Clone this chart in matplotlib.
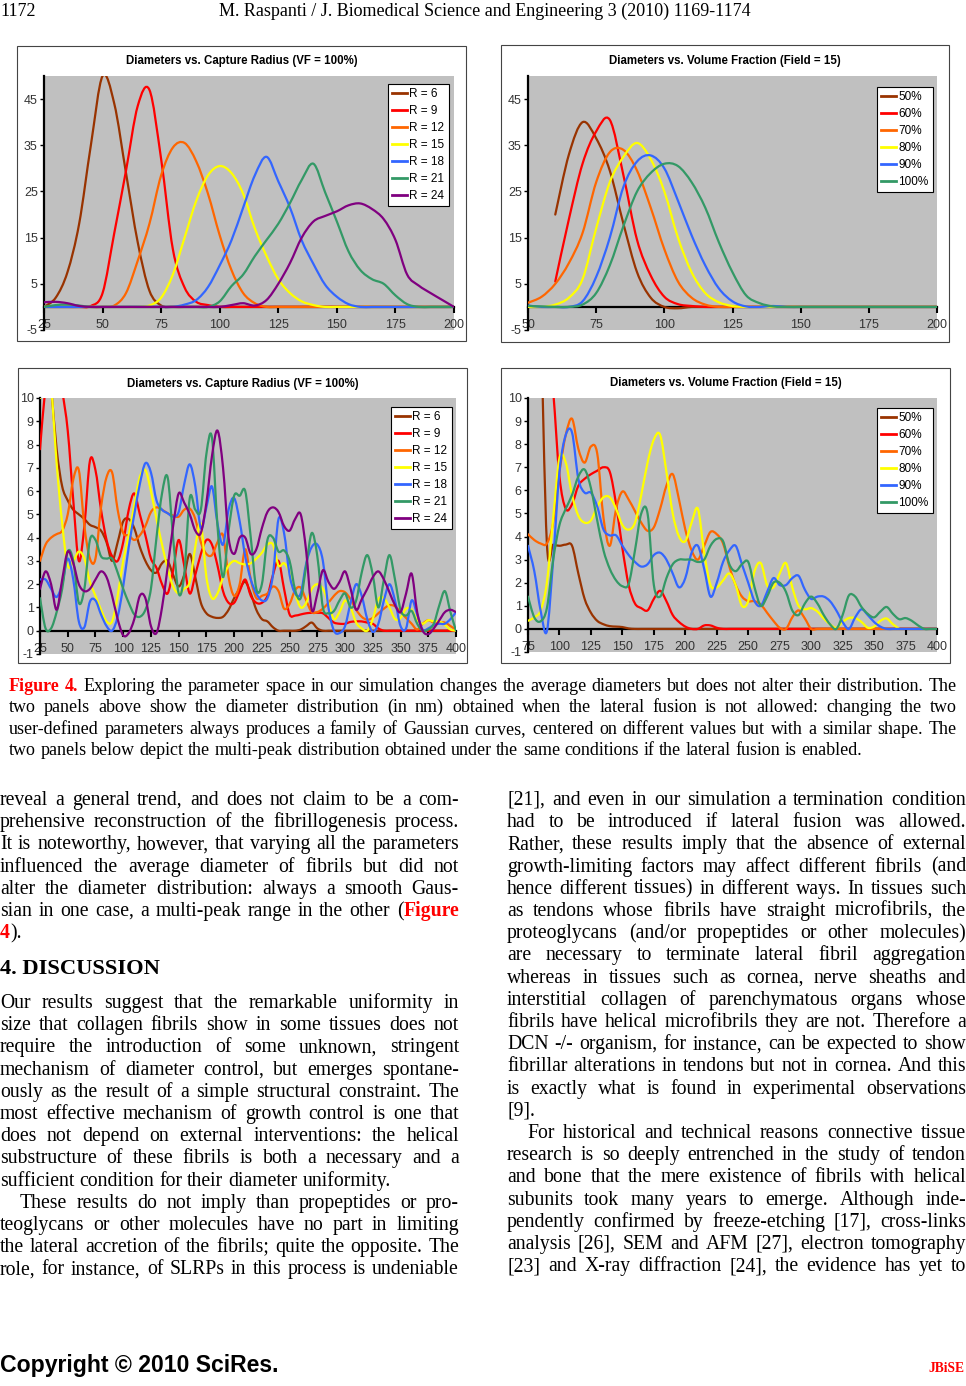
import matplotlib
matplotlib.use("Agg")
import matplotlib.pyplot as plt
from matplotlib.path import Path
from matplotlib.patches import PathPatch, Rectangle
from matplotlib.lines import Line2D

plt.rcParams["font.family"] = ["Liberation Sans", "DejaVu Sans"]
plt.rcParams["axes.unicode_minus"] = False

W, H = 966, 1386
SERIF = ["Liberation Serif", "DejaVu Serif"]
RED = "#ff0000"
COLORS = ["#993300", "#ff0000", "#ff6600", "#ffff00", "#3366ff", "#339966", "#800080"]

# ---------------- chart data ----------------
# top left: no lateral fusion, capture radius R
tl_x = list(range(25, 205, 5))
tl_labels = ["R = 6", "R = 9", "R = 12", "R = 15", "R = 18", "R = 21", "R = 24"]
tl_r6 = [0, 2, 7.5, 18, 35, 50, 44, 29, 14, 3.5,
         0.3, 0, 0, 0, 0, 0, 0, 0, 0, 0,
         0, 0, 0, 0, 0, 0, 0, 0, 0, 0,
         0, 0, 0, 0, 0, 0]
tl_r9 = [0, 0, 0, 0, 0.2, 3, 16, 29.5, 43.5, 47,
         32, 12.5, 4.2, 1.1, 0.4, 0, 0, 0, 0, 0,
         0, 0, 0, 0, 0, 0, 0, 0, 0, 0,
         0, 0, 0, 0, 0, 0]
tl_r12 = [0, 0, 0, 0, 0, 0, 0.3, 3, 10, 18,
          28.5, 34.5, 35.5, 31.5, 24.5, 15.5, 8, 3, 0.8, 0,
          0, 0, 0, 0, 0, 0, 0, 0, 0, 0,
          0, 0, 0, 0, 0, 0]
tl_r15 = [0, 0, 0, 0, 0, 0, 0, 0, 0, 0.3,
          2, 7, 15, 23, 28.5, 30.5, 29, 24.5, 17, 11,
          6, 3, 1.2, 0.4, 0, 0, 0, 0, 0, 0,
          0, 0, 0, 0, 0, 0]
tl_r18 = [0, 0, 0, 0, 0, 0, 0, 0, 0, 0,
          0, 0, 0.5, 1.5, 4.3, 9, 14.4, 21.5, 28.5, 32.5,
          27.2, 21.5, 14.4, 9.3, 4.8, 2.2, 0.6, 0, 0, 0,
          0, 0, 0, 0, 0, 0]
tl_r21 = [0, 0.4, 0.5, 0.3, 0, 0, 0, 0, 0, 0,
          0, 0, 0, 0, 0, 1.2, 4.5, 7, 11, 14.5,
          18, 22.5, 27.5, 31, 24.8, 18.5, 12, 8, 6, 5,
          2.5, 0.6, 0, 0, 0, 0]
tl_r24 = [1, 1.1, 0.8, 0.2, 0, 0, 0, 0, 0, 0,
          0, 0, 0, 0, 0, 0, 0.4, 0.8, 0.3, 1.5,
          5, 9.5, 15, 18.5, 19.7, 20.7, 22, 22.4, 21.2, 19,
          14.5, 7, 4.6, 3, 1.5, 0]

# top right: no lateral fusion, volume fraction
tr_x = list(range(50, 205, 5))
tr_labels = ["50%", "60%", "70%", "80%", "90%", "100%"]
tr_50 = [None, None, 20, 33, 40, 36.5, 29.5, 18, 7.5, 2,
         0, -0.3, 0, 0, 0, 0, 0, 0, 0, 0,
         0, 0, 0, 0, 0, 0, 0, 0, 0, 0, 0]
tr_60 = [None, None, 5.5, 19, 31, 38, 40.5, 28.5, 14.5, 6.8,
         2.2, 0.6, 0.2, 0, 0, 0, 0, 0, 0, 0,
         0, 0, 0, 0, 0, 0, 0, 0, 0, 0, 0]
tr_70 = [0.9, 2.2, 5, 9.5, 16, 27, 33.5, 34, 29.5, 21.5,
         12.5, 5.5, 2, 0.5, 0, 0, 0, 0, 0, 0,
         0, 0, 0, 0, 0, 0, 0, 0, 0, 0, 0]
tr_80 = [0, 0, 0.5, 2, 6, 17, 27, 32.5, 35.5, 32,
         25, 15, 7.5, 3, 1, 0.2, 0, 0, 0, 0,
         0, 0, 0, 0, 0, 0, 0, 0, 0, 0, 0]
tr_90 = [0.3, 0, 0, 0, 1.2, 6.5, 15, 26, 31.5, 32.8,
         30, 23, 15.5, 9, 4, 1.2, 0.1, 0, 0.2, 0,
         0, 0, 0, 0, 0, 0, 0, 0, 0, 0, 0]
tr_100 = [0.2, 0.1, 0, 0, 0.5, 3, 9, 17.5, 25, 29,
          31, 30.5, 27, 21.5, 14, 7.5, 2.5, 0.8, 0.1, 0,
          0, 0, 0, 0, 0, 0, 0, 0, 0, 0, 0]

# bottom left: lateral fusion, capture radius R
bl_x = list(range(25, 405, 5))
bl_r6 = [15, 13, 10.5, 7.8, 6.2, 5.6, 5.2, 5.0, 4.8, 4.55,
         4.45, 4.3, 3.8, 3.0, 3.8, 4.7, 4.8, 4.4, 3.6, 3.0,
         2.6, 2.5, 2.9, 3.0, 2.4, 1.9, 2.4, 3.3, 2.3, 1.2,
         0.75, 0.6, 0.55, 0.6, 0.9, 1.4, 1.8, 2.1, 1.6, 0.9,
         0.5, 0.4, 0.15, 0, 0, 0, 0, 0.05, 0.2, 0.35,
         0.1, 0, 0, 0, 0, 0, 0, 0, 0, 0,
         0, 0, 0, 0, 0, 0, 0, 0, 0, 0,
         0, 0, 0, 0, 0, 0]
bl_r9 = [7.8, 10.5, 12, 11.5, 10.3, 8.6, 5.6, 3.0, 4.5, 7.3,
         6.9, 5.2, 3.9, 3.2, 3.0, 3.8, 5.2, 5.9, 5.0, 4.1,
         3.1, 2.7, 2.0, 1.6, 2.6, 3.9, 2.8, 1.6, 2.4, 3.3,
         3.9, 3.7, 2.8, 1.7, 1.2, 1.2, 1.7, 2.2, 1.5, 1.2,
         1.2, 1.5, 2.4, 3.0, 1.8, 0.7, 0.65, 0.7, 0.75, 0.77,
         0.77, 0.75, 0.55, 0.35, 0.3, 0.3, 0.38, 0.4, 0.4, 0.35,
         0.3, 0.1, 0, 0, 0, 0, 0, 0, 0, 0,
         0, 0, 0, 0, 0, 0]
bl_r12 = [3.0, 3.7, 4.0, 4.15, 4.3, 5.0, 6.5, 6.9, 4.5, 3.1,
          3.1, 5.3, 6.6, 6.8, 5.2, 4.2, 4.1, 3.9, 4.1, 4.5,
          5.1, 5.3, 5.2, 5.05, 4.95, 4.9, 5.2, 5.25, 4.8, 3.8,
          3.3, 3.25, 3.8, 4.1, 2.3, 1.5, 2.0, 3.5, 2.2, 1.4,
          1.5, 1.6, 1.9, 1.7, 0.95, 1.15, 1.75, 1.85, 1.3, 0.8,
          0.8, 0.95, 1.2, 1.5, 1.7, 1.65, 1.35, 0.9, 0.6, 0.47,
          0.55, 0.75, 0.95, 1.1, 1.05, 0.8, 0.55, 0.3, 0.05, 0.3,
          0.45, 0.35, 0.35, 0.35, 0.2, 0.05]
bl_r15 = [10, 12, 10.5, 7.2, 4.6, 2.8, 3.0, 3.4, 3.1, 2.1,
          1.5, 0.9, 0.4, 0.4, 1.5, 3.0, 4.1, 5.4, 6.6, 6.9,
          6.0, 4.8, 3.7, 2.7, 1.9, 1.6, 1.8, 2.1, 3.6, 4.6,
          2.3, 1.4, 1.6, 2.3, 2.8, 3.0, 2.9, 2.85, 2.9, 3.1,
          3.35, 3.7, 3.7, 2.8, 2.9, 2.5, 1.6, 1.0, 1.2, 1.8,
          2.0, 1.8, 1.2, 0.5, 0.8, 1.3, 1.0, 0.35, 0.1, 0,
          0.5, 1.35, 1.4, 1.0, 0.5, 0.55, 0.95, 0.9, 0.45, 0.3,
          0.45, 0.4, 0.4, 0.25, 0.05, 0]
bl_r18 = [2.2, 2.2, 1.8, 1.45, 2.0, 3.1, 2.2, 0.4, 0.15, 1.25,
          1.3, 0.7, 0.2, 0, 0.6, 1.9, 3.6, 5.0, 6.3, 7.2,
          6.8, 5.6, 5.2, 5.05, 4.9, 5.1, 6.3, 7.15, 6.2, 4.4,
          5.3, 6.2, 4.6, 3.7, 5.2, 5.7, 4.7, 3.2, 2.2, 1.6,
          1.3, 1.4, 2.4, 4.8, 4.2, 2.4, 1.6, 1.6, 2.9, 3.6,
          3.7, 3.0, 1.0, 0, -0.1, 0.2, 1.2, 2.0, 1.5, 0.5,
          -0.05, 0.3, 1.3, 2.0, 1.3, 0.2, 0.1, 1.3, 0.7, 0.05,
          0.1, 0.25, 0.3, 0.3, 0.5, 0.8]
bl_r21 = [1.4, 0.1, 0.1, 0.8, 1.8, 3.4, 3.0, 1.2, 1.8, 3.9,
          3.9, 3.2, 3.1, 3.1, 2.5, 1.8, 1.2, 0.7, 0.6, 0.9,
          1.8, 4.0, 5.9, 6.6, 4.0, 1.6, 2.4, 5.7, 5.2, 5.2,
          7.6, 8.3, 4.5, 2.3, 4.3, 5.8, 5.8, 6.0, 4.0, 1.8,
          2.0, 3.9, 4.0, 3.4, 3.45, 3.0, 1.75, 1.4, 2.8, 4.2,
          3.2, 1.0, 0.75, 0.85, 1.3, 1.6, 1.0, 1.3, 2.5, 3.25,
          2.4, 1.0, 2.2, 3.25, 2.2, 0.9, 0.65, 0.85, 0.3, 0,
          0.05, 0.3, 1.1, 1.7, 0.8, 0]
bl_r24 = [1.8, 2.55, 2.0, 0.9, 2.2, 3.4, 2.9, 2.0, 1.7, 1.8,
          2.2, 2.55, 2.3, 1.5, 0.5, -0.2, -0.1, 0.5, 1.5, 1.4,
          0.2, -0.1, 1.0, 2.7, 4.5, 5.9, 5.5, 5.0, 4.3, 4.2,
          5.5, 7.5, 8.6, 7.0, 4.0, 3.3, 4.0, 4.0, 3.3, 3.5,
          4.4, 5.1, 5.3, 5.1, 4.5, 4.3, 4.8, 5.0, 3.4, 0.9,
          1.6, 2.6, 2.1, 1.8, 2.1, 2.55, 1.8, 0.9, 1.35, 1.8,
          2.3, 2.55, 2.2, 1.65, 1.1, 0.8, 1.6, 2.45, 0.8, 0,
          -0.15, 0.1, 0.45, 0.8, 0.9, 0.8]

# bottom right: lateral fusion, volume fraction
br_x = list(range(75, 405, 5))
br_50 = [None, None, 14, 3.7, 3.65, 3.6, 3.65, 3.6, 2.4, 1.3,
         0.7, 0.35, 0.2, 0.12, 0.1, 0.08, 0.02, 0, 0, 0,
         0, 0, 0, 0, 0, 0, 0, 0, 0, 0,
         0, 0, 0, 0, 0, 0, 0, 0, 0, 0,
         0, 0, 0, 0, 0, 0, 0, 0, 0, 0,
         0, 0, 0, 0, 0, 0, 0, 0, 0, 0,
         0, 0, 0, 0, 0, 0]
br_60 = [None, None, None, 13, 10.3, 6.6, 5.2, 5.4, 6.2, 6.5,
         6.7, 6.85, 7.0, 6.8, 5.4, 3.5, 1.9, 1.1, 0.9, 0.8,
         1.3, 1.65, 1.2, 0.6, 0.3, 0.1, 0, 0, 0.15, 0.15,
         0.05, 0, 0, 0, 0, 0, 0, 0, 0, 0,
         0, 0, 0, 0, 0, 0, 0, 0, 0, 0,
         0, 0, 0, 0, 0, 0, 0, 0, 0, 0,
         0, 0, 0, 0, 0, 0]
br_70 = [4.1, 3.85, 3.7, 3.7, 4.6, 6.8, 8.4, 9.1, 7.8, 7.2,
         7.9, 7.6, 4.8, 3.6, 5.2, 5.95, 5.6, 5.1, 4.6, 4.25,
         4.4, 5.2, 6.2, 6.7, 5.6, 4.3, 3.4, 3.0, 3.6, 4.2,
         4.1, 3.7, 2.7, 1.9, 1.4, 1.2, 1.2, 1.05, 0.7, 0.35,
         0.05, 0, 0.5, 0.8, 0.45, 0, 0, 0, 0, 0,
         0, 0, 0, 0, 0, 0, 0, 0, 0, 0,
         0, 0, 0, 0, 0, 0]
br_80 = [0.35, 0.5, 0.8, 2.0, 4.8, 7.4, 7.2, 5.8, 4.9, 4.6,
         4.7, 5.3, 5.7, 5.7, 5.2, 4.5, 4.3, 4.6, 5.8, 7.2,
         8.2, 8.4, 6.8, 5.0, 4.0, 3.8, 4.6, 5.2, 3.3, 1.9,
         1.8, 2.1, 2.4, 1.9, 1.0, 1.2, 2.5, 2.85, 1.9, 1.8,
         2.4, 2.85, 1.8, 1.0, 0.85, 0.9, 0.75, 0.45, 0.2, 0.05,
         0.3, 0.47, 0.47, 0.3, 0.05, 0.1, 0.35, 0.45, 0.2, 0,
         None, None, None, None, None, None]
br_90 = [3.6, 2.5, 0.8, -0.1, 3.0, 6.8, 8.4, 8.5, 6.5, 5.9,
         5.9, 5.3, 4.3, 4.05, 4.05, 3.6, 3.2, 2.9, 2.7, 2.8,
         3.2, 3.3, 3.0, 2.4, 1.8, 2.2, 3.3, 3.6, 2.6, 1.4,
         2.0, 2.9, 3.4, 3.6, 2.8, 2.0, 1.2, 1.0, 1.6, 2.2,
         1.9, 1.9, 2.2, 2.3, 1.7, 1.3, 1.4, 1.4, 1.2, 0.8,
         0.3, 0, 0.5, 0.85, 0.6, 0.3, 0.1, 0, 0, 0,
         0, 0, 0, 0, 0, 0]
br_100 = [1.4, 0.5, 0.33, 0.9, 3.0, 4.5, 5.2, 5.8, 6.6, 6.9,
          6.1, 4.7, 3.4, 2.6, 2.1, 1.85, 1.95, 3.4, 5.0, 5.0,
          1.9, 1.4, 2.2, 2.8, 3.0, 3.0, 3.0, 2.9, 3.0, 3.6,
          3.9, 3.8, 2.8, 2.5, 2.8, 2.9, 1.8, 1.0, 1.4, 2.0,
          2.0, 1.6, 0.8, 0.6, 1.1, 1.4, 1.1, 0.6, 0.2, 0,
          0.6, 1.45, 1.4, 0.95, 0.65, 0.5, 0.75, 0.95, 0.65, 0.42,
          0.47, 0.35, 0.15, 0, 0, 0]

top_yticks = [-5, 5, 15, 25, 35, 45]
bottom_yticks = [-1, 0, 1, 2, 3, 4, 5, 6, 7, 8, 9, 10]
tl_xticks = [25, 50, 75, 100, 125, 150, 175, 200]
tr_xticks = [50, 75, 100, 125, 150, 175, 200]
bl_xticks = list(range(25, 425, 25))
br_xticks = list(range(75, 425, 25))

title_r = "Diameters vs. Capture Radius (VF = 100%)"
title_vf = "Diameters vs. Volume Fraction (Field = 15)"

# ---------------- page text ----------------
header = "M. Raspanti / J. Biomedical Science and Engineering 3 (2010) 1169-1174"
page_no = "1172"
caption = [
    "{Figure} {4.} Exploring the parameter space in our simulation changes the average diameters but does not alter their distribution. The",
    "two panels above show the diameter distribution (in nm) obtained when the lateral fusion is not allowed: changing the two",
    "user-defined parameters always produces a family of Gaussian curves, centered on different values but with a similar shape. The",
    "two panels below depict the multi-peak distribution obtained under the same conditions if the lateral fusion is enabled.",
]
left_a = [
    "reveal a general trend, and does not claim to be a com-",
    "prehensive reconstruction of the fibrillogenesis process.",
    "It is noteworthy, however, that varying all the parameters",
    "influenced the average diameter of fibrils but did not",
    "alter the diameter distribution: always a smooth Gaus-",
    "sian in one case, a multi-peak range in the other ({Figure}",
    "{4}).",
]
heading = "4. DISCUSSION"
left_b = [
    "Our results suggest that the remarkable uniformity in",
    "size that collagen fibrils show in some tissues does not",
    "require the introduction of some unknown, stringent",
    "mechanism of diameter control, but emerges spontane-",
    "ously as the result of a simple structural constraint. The",
    "most effective mechanism of growth control is one that",
    "does not depend on external interventions: the helical",
    "substructure of these fibrils is both a necessary and a",
    "sufficient condition for their diameter uniformity.",
    "These results do not imply than propeptides or pro-",
    "teoglycans or other molecules have no part in limiting",
    "the lateral accretion of the fibrils; quite the opposite. The",
    "role, for instance, of SLRPs in this process is undeniable",
]
right_col = [
    "[21], and even in our simulation a termination condition",
    "had to be introduced if lateral fusion was allowed.",
    "Rather, these results imply that the absence of external",
    "growth-limiting factors may affect different fibrils (and",
    "hence different tissues) in different ways. In tissues such",
    "as tendons whose fibrils have straight microfibrils, the",
    "proteoglycans (and/or propeptides or other molecules)",
    "are necessary to terminate lateral fibril aggregation",
    "whereas in tissues such as cornea, nerve sheaths and",
    "interstitial collagen of parenchymatous organs whose",
    "fibrils have helical microfibrils they are not. Therefore a",
    "DCN -/- organism, for instance, can be expected to show",
    "fibrillar alterations in tendons but not in cornea. And this",
    "is exactly what is found in experimental observations",
    "[9].",
    "For historical and technical reasons connective tissue",
    "research is so deeply entrenched in the study of tendon",
    "and bone that the mere existence of fibrils with helical",
    "subunits took many years to emerge. Although inde-",
    "pendently confirmed by freeze-etching [17], cross-links",
    "analysis [26], SEM and AFM [27], electron tomography",
    "[23] and X-ray diffraction [24], the evidence has yet to",
]

fig = plt.figure(figsize=(W / 100, H / 100), dpi=100)
fig.patch.set_facecolor("white")


def fx(x):
    return x / W


def fy(y):
    return 1 - y / H


def smooth(ax, xs, ys, color):
    # Excel-like smoothed line: cubic Bezier through the data points
    segs, cur = [], []
    for x, y in zip(xs, ys):
        if y is None:
            if cur:
                segs.append(cur)
            cur = []
        else:
            cur.append((x, y))
    if cur:
        segs.append(cur)
    for pts in segs:
        n = len(pts)
        verts, codes = [pts[0]], [Path.MOVETO]
        for i in range(n - 1):
            p0 = pts[i - 1] if i > 0 else pts[i]
            p1, p2 = pts[i], pts[i + 1]
            p3 = pts[i + 2] if i + 2 < n else pts[i + 1]
            c1 = (p1[0] + (p2[0] - p0[0]) / 6, p1[1] + (p2[1] - p0[1]) / 6)
            c2 = (p2[0] - (p3[0] - p1[0]) / 6, p2[1] - (p3[1] - p1[1]) / 6)
            verts += [c1, c2, p2]
            codes += [Path.CURVE4] * 3
        ax.add_patch(PathPatch(Path(verts, codes), fill=False, edgecolor=color,
                               lw=1.6, joinstyle="round", capstyle="round", zorder=3))


def chart(box, plot, title, title_y, xs, series, labels, xlim, ylim, xticks, yticks, leg_xy):
    bx0, by0, bx1, by1 = box
    fig.add_artist(Rectangle((fx(bx0), fy(by1)), (bx1 - bx0) / W, (by1 - by0) / H,
                             transform=fig.transFigure, facecolor="white",
                             edgecolor="#444444", lw=0.8, zorder=-1))
    fig.text(fx((bx0 + bx1) / 2), fy(title_y), title, ha="center", va="center",
             fontsize=8.3, weight="bold")
    px0, py0, px1, py1 = plot
    ax = fig.add_axes([fx(px0), fy(py1), (px1 - px0) / W, (py1 - py0) / H])
    ax.set_facecolor("#c0c0c0")
    for ys, c in zip(series, COLORS):
        smooth(ax, xs, ys, c)
    ax.set_xlim(*xlim)
    ax.set_ylim(*ylim)
    ax.set_xticks(xticks)
    ax.set_yticks(yticks)
    ax.spines["top"].set_visible(False)
    ax.spines["right"].set_visible(False)
    ax.spines["bottom"].set_position(("data", 0))
    ax.spines["bottom"].set_linewidth(1.6)
    ax.spines["left"].set_linewidth(1.6)
    ax.tick_params(axis="x", direction="out", length=4, width=1.5, pad=4.5,
                   labelsize=9, labelcolor="#333333")
    ax.tick_params(axis="y", direction="out", length=3, width=1, pad=1.5,
                   labelsize=9, labelcolor="#333333")
    handles = [Line2D([0], [0], color=c, lw=2) for c in COLORS[:len(labels)]]
    leg = ax.legend(handles, labels, loc="upper left", bbox_to_anchor=(fx(leg_xy[0]), fy(leg_xy[1])),
                    bbox_transform=fig.transFigure, borderaxespad=0, fancybox=False,
                    edgecolor="black", framealpha=1, fontsize=8.5, handlelength=1.3,
                    handletextpad=0.15, labelspacing=0.42, borderpad=0.35)
    leg.get_frame().set_linewidth(0.8)
    return ax


chart((17, 46, 466, 341), (44, 76, 454, 330), title_r, 61, tl_x,
      [tl_r6, tl_r9, tl_r12, tl_r15, tl_r18, tl_r21, tl_r24], tl_labels,
      (25, 200), (-5, 50), tl_xticks, top_yticks, (388, 84))
chart((501, 45, 949, 342), (528, 76, 937, 330), title_vf, 61, tr_x,
      [tr_50, tr_60, tr_70, tr_80, tr_90, tr_100], tr_labels,
      (50, 200), (-5, 50), tr_xticks, top_yticks, (877, 87))
chart((18, 368, 467, 663), (40, 398, 456, 654), title_r, 384, bl_x,
      [bl_r6, bl_r9, bl_r12, bl_r15, bl_r18, bl_r21, bl_r24], tl_labels,
      (25, 400), (-1, 10), bl_xticks, bottom_yticks, (391, 407))
chart((501, 368, 950, 663), (528, 398, 937, 652), title_vf, 383, br_x,
      [br_50, br_60, br_70, br_80, br_90, br_100], tr_labels,
      (75, 400), (-1, 10), br_xticks, bottom_yticks, (877, 408))

# ---------------- text layout ----------------
renderer = fig.canvas.get_renderer()
_cache = {}


def measure(s, size, weight="normal", family=None):
    key = (s, size, weight, str(family))
    if key not in _cache:
        t = fig.text(0, 0, s, fontsize=size, weight=weight, family=family or SERIF)
        _cache[key] = t.get_window_extent(renderer).width
        t.remove()
    return _cache[key]


def parse(word):
    parts = word.replace("}", "{").split("{")
    return [(p, i % 2 == 1) for i, p in enumerate(parts) if p]


def put_line(text, x0, x1, yb, size, justify=True, weight="normal"):
    words = [parse(w) for w in text.split(" ")]
    while True:
        ww = [sum(measure(p, size, "bold" if r else weight) for p, r in w) for w in words]
        sp = 0.25 * size * 100 / 72
        gap = sp
        if justify and len(words) > 1:
            gap = (x1 - x0 - sum(ww)) / (len(words) - 1)
            if gap < 0.6 * sp:
                size *= 0.985
                continue
        break
    x = x0
    for w, wd in zip(words, ww):
        xx = x
        for p, r in w:
            fig.text(fx(xx), fy(yb), p, fontsize=size, family=SERIF,
                     weight="bold" if r else weight, color=RED if r else "black",
                     va="baseline", ha="left")
            xx += measure(p, size, "bold" if r else weight)
        x += wd + gap


def fit_size(s, width, weight="normal", family=None):
    return 10 * width / measure(s, 10, weight, family)


# header
hs = fit_size(header, 531)
fig.text(fx(0), fy(16), page_no, fontsize=hs, family=SERIF, va="baseline")
fig.text(fx(219), fy(16), header, fontsize=hs, family=SERIF, va="baseline")

# caption
CAP = 13
for i, line in enumerate(caption):
    put_line(line, 9, 957, 691 + 21.3 * i, CAP, justify=i < len(caption) - 1)

# two text columns
BODY = 14.2
LEAD = 22.2
LX0, LX1 = 0, 459
RX0, RX1 = 507, 966
for i, line in enumerate(left_a):
    put_line(line, LX0, LX1, 805 + LEAD * i, BODY, justify=i < len(left_a) - 1)
fig.text(fx(LX0), fy(974), heading, fontsize=16.2, family=SERIF, weight="bold", va="baseline")
for i, line in enumerate(left_b):
    indent = 20 if i == 9 else 0
    put_line(line, LX0 + indent, LX1, 1008 + LEAD * i, BODY, justify=i != 8)
for i, line in enumerate(right_col):
    indent = 20 if i == 15 else 0
    put_line(line, RX0 + indent, RX1, 805 + LEAD * i, BODY, justify=i != 14)

# footer
SANS_B = ["Liberation Sans", "DejaVu Sans"]
fs = fit_size("Copyright © 2010 SciRes.", 280, "bold", SANS_B)
fig.text(fx(0), fy(1372), "Copyright © 2010 SciRes.", fontsize=fs, weight="bold",
         family=SANS_B, va="baseline")
js = fit_size("JBiSE", 36, "bold")
fig.text(fx(964), fy(1372), "JBiSE", fontsize=js, weight="bold", family=SERIF,
         color=RED, ha="right", va="baseline")

fig.savefig("out.png", dpi=100)
